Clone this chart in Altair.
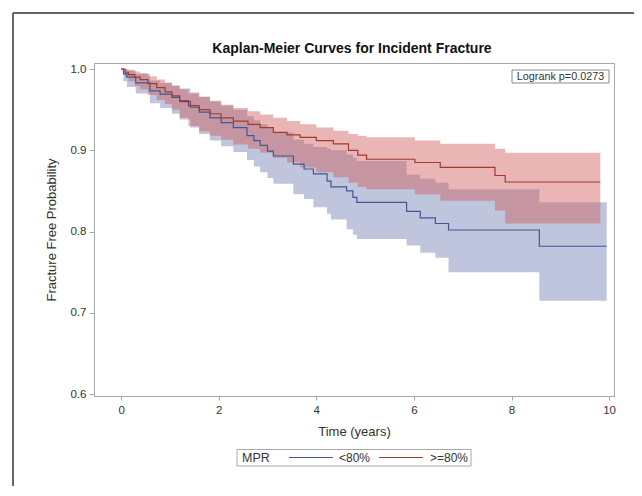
import altair as alt
import pandas as pd

groups = ["<80%", ">=80%"]
line_colors = ["#445694", "#A23A2E"]
band_colors = ["#6F7EB3", "#D05B5B"]

# >=80% group
red_t = [0.00, 0.08, 0.15, 0.28, 0.39, 0.55, 0.73, 0.90, 1.04, 1.20, 1.38, 1.60, 1.82, 2.05, 2.30,
         2.60, 2.85, 3.12, 3.40, 3.67, 4.00, 4.35, 4.66, 4.85, 5.03, 6.02, 6.54, 7.66, 7.87, 9.82]
red_s = [1.000, 0.996, 0.993, 0.990, 0.987, 0.982, 0.977, 0.972, 0.967, 0.961, 0.955, 0.950, 0.945, 0.940, 0.936,
         0.932, 0.928, 0.922, 0.919, 0.916, 0.912, 0.908, 0.900, 0.894, 0.889, 0.885, 0.879, 0.869, 0.861, 0.861]
red_hi = [1.000, 1.000, 0.999, 0.997, 0.995, 0.991, 0.987, 0.983, 0.979, 0.975, 0.970, 0.966, 0.961, 0.956, 0.952,
          0.948, 0.944, 0.940, 0.936, 0.932, 0.928, 0.924, 0.920, 0.918, 0.916, 0.912, 0.908, 0.902, 0.897, 0.897]
red_lo = [1.000, 0.990, 0.985, 0.979, 0.975, 0.968, 0.962, 0.957, 0.950, 0.940, 0.930, 0.923, 0.918, 0.913, 0.907,
          0.902, 0.897, 0.891, 0.885, 0.879, 0.873, 0.867, 0.860, 0.855, 0.852, 0.846, 0.838, 0.826, 0.810, 0.810]

# <80% group
blue_t = [0.00, 0.05, 0.12, 0.30, 0.59, 0.80, 1.04, 1.20, 1.42, 1.60, 1.82, 2.05, 2.30, 2.58, 2.72, 2.85,
          3.00, 3.12, 3.53, 3.75, 3.94, 4.22, 4.30, 4.62, 4.75, 4.83, 5.85, 6.13, 6.44, 6.71, 8.57, 9.95]
blue_s = [1.000, 0.994, 0.990, 0.983, 0.973, 0.969, 0.965, 0.960, 0.953, 0.947, 0.940, 0.934, 0.928, 0.918, 0.912, 0.906,
          0.899, 0.893, 0.883, 0.877, 0.871, 0.862, 0.855, 0.850, 0.842, 0.836, 0.825, 0.817, 0.810, 0.802, 0.782, 0.782]
blue_hi = [1.000, 1.000, 0.998, 0.994, 0.986, 0.983, 0.980, 0.976, 0.971, 0.966, 0.960, 0.955, 0.950, 0.942, 0.937, 0.932,
           0.927, 0.922, 0.913, 0.908, 0.904, 0.902, 0.900, 0.895, 0.891, 0.887, 0.870, 0.865, 0.860, 0.852, 0.836, 0.836]
blue_lo = [1.000, 0.985, 0.978, 0.970, 0.958, 0.952, 0.945, 0.938, 0.928, 0.920, 0.912, 0.905, 0.898, 0.888, 0.880, 0.873,
           0.866, 0.859, 0.846, 0.840, 0.830, 0.822, 0.815, 0.803, 0.796, 0.791, 0.783, 0.774, 0.768, 0.750, 0.715, 0.715]

x_ticks = [0, 2, 4, 6, 8, 10]
y_ticks = [0.6, 0.7, 0.8, 0.9, 1.0]
title_text = "Kaplan-Meier Curves for Incident Fracture"
logrank_text = "Logrank p=0.0273"
legend_title = "MPR"

rows = []
for g, ts, ss, lo, hi in [(groups[0], blue_t, blue_s, blue_lo, blue_hi),
                          (groups[1], red_t, red_s, red_lo, red_hi)]:
    for t, s, l, h in zip(ts, ss, lo, hi):
        rows.append({"group": g, "band": g, "time": t, "surv": s, "lower": l, "upper": h})
df = pd.DataFrame(rows)

FONT = "Liberation Sans"
TXT = "#333333"
x_scale = alt.Scale(domain=[-0.555, 10.10], nice=False, zero=False)
y_scale = alt.Scale(domain=[0.5978, 1.0074], nice=False, zero=False)

x_axis = alt.Axis(values=x_ticks, title="Time (years)", format="d", grid=False,
                  tickSize=4, labelPadding=4, titlePadding=10)
y_axis = alt.Axis(values=y_ticks, title="Fracture Free Probability", format=".1f", grid=False,
                  tickSize=5, labelPadding=3, titlePadding=12)

base = alt.Chart(df)

band = base.mark_area(interpolate="step-after", opacity=0.45).encode(
    x=alt.X("time:Q", scale=x_scale, axis=x_axis),
    y=alt.Y("lower:Q", scale=y_scale, axis=y_axis),
    y2="upper:Q",
    fill=alt.Fill("band:N", scale=alt.Scale(domain=groups, range=band_colors), legend=None),
)

line = base.mark_line(interpolate="step-after", strokeWidth=1.2).encode(
    x=alt.X("time:Q", scale=x_scale, axis=x_axis),
    y=alt.Y("surv:Q", scale=y_scale, axis=y_axis),
    stroke=alt.Stroke("group:N", scale=alt.Scale(domain=groups, range=line_colors), legend=None),
)

one = pd.DataFrame({"k": [0]})

# title
title_mark = alt.Chart(one).mark_text(text=title_text, fontSize=14, fontWeight="bold", font=FONT,
                                      color="#111111", align="center", baseline="middle").encode(
    x=alt.value(258), y=alt.value(-14)
)

# logrank annotation
ann_box = alt.Chart(one).mark_rect(fill="white", stroke="#8a8a8a", strokeWidth=1).encode(
    x=alt.value(418), x2=alt.value(515), y=alt.value(7), y2=alt.value(20)
)
ann_text = alt.Chart(one).mark_text(text=logrank_text, fontSize=10.8, font=FONT, color=TXT,
                                    align="center", baseline="middle").encode(
    x=alt.value(466.5), y=alt.value(13.8)
)

# legend (box, title, swatches, labels)
leg_box = alt.Chart(one).mark_rect(fill="white", stroke="#A8A8A8", strokeWidth=1).encode(
    x=alt.value(143), x2=alt.value(377), y=alt.value(386.5), y2=alt.value(403)
)
leg_title = alt.Chart(one).mark_text(text=legend_title, fontSize=12.5, font=FONT, color=TXT,
                                     align="left", baseline="middle").encode(
    x=alt.value(148), y=alt.value(395)
)
leg_line1 = alt.Chart(one).mark_rule(color=line_colors[0], strokeWidth=1.2).encode(
    x=alt.value(195), x2=alt.value(239), y=alt.value(394.5)
)
leg_lab1 = alt.Chart(one).mark_text(text=groups[0], fontSize=12, font=FONT, color=TXT,
                                    align="left", baseline="middle").encode(
    x=alt.value(245), y=alt.value(395)
)
leg_line2 = alt.Chart(one).mark_rule(color=line_colors[1], strokeWidth=1.2).encode(
    x=alt.value(285), x2=alt.value(329), y=alt.value(394.5)
)
leg_lab2 = alt.Chart(one).mark_text(text=groups[1], fontSize=12, font=FONT, color=TXT,
                                    align="left", baseline="middle").encode(
    x=alt.value(336), y=alt.value(395)
)

# outer graph border (top and left edges)
border_top = alt.Chart(one).mark_rule(color="#333333", strokeWidth=1.5).encode(
    x=alt.value(-81), x2=alt.value(540), y=alt.value(-50)
)
border_left = alt.Chart(one).mark_rule(color="#333333", strokeWidth=1.5).encode(
    x=alt.value(-81), y=alt.value(-50), y2=alt.value(425)
)

chart = alt.layer(
    band, line, ann_box, ann_text, title_mark,
    leg_box, leg_title, leg_line1, leg_lab1, leg_line2, leg_lab2,
    border_top, border_left,
).properties(
    width=520, height=333,
    autosize=alt.AutoSizeParams(type="none"),
    padding={"left": 86, "top": 55, "right": 20, "bottom": 90},
).configure_view(
    stroke="#A8A8A8", strokeWidth=1
).configure_axis(
    labelFont=FONT, titleFont=FONT, labelFontSize=11.5, titleFontSize=13,
    labelColor=TXT, titleColor=TXT, titleFontWeight="normal",
    domainColor="#A8A8A8", tickColor="#A8A8A8"
)

chart.save("out.html", embed_options={"renderer": "svg", "actions": False})
